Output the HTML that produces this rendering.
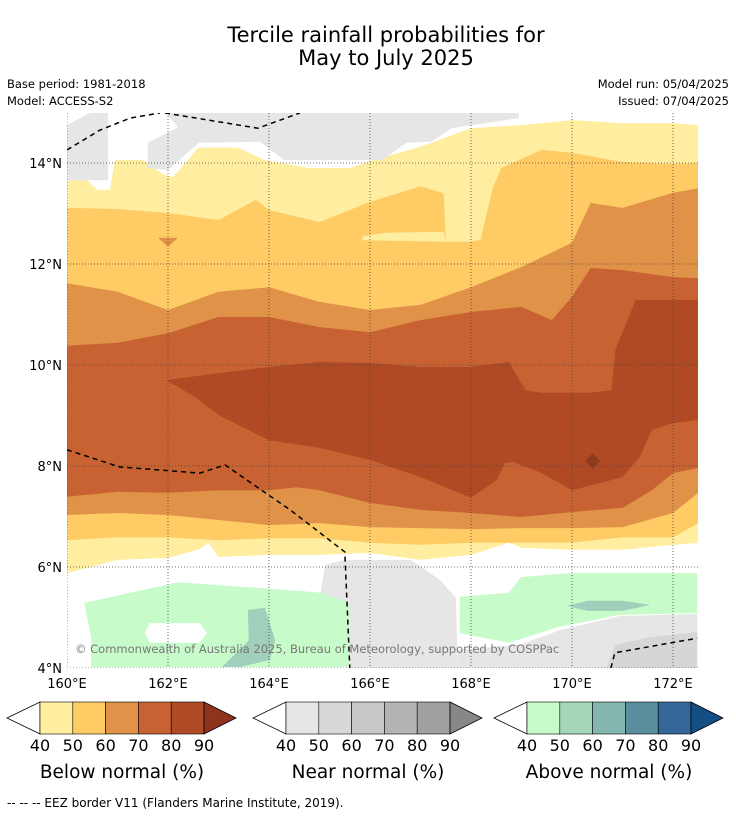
<!DOCTYPE html>
<html><head><meta charset="utf-8"><style>
html,body{margin:0;padding:0;background:#fff;}
svg{display:block;font-family:"DejaVu Sans","Liberation Sans",sans-serif;}
</style></head><body>
<svg id="chart" width="736" height="816" viewBox="0 0 736 816" xmlns="http://www.w3.org/2000/svg">
<rect width="736" height="816" fill="#fff"/>
<text x="386" y="42" text-anchor="middle" font-size="21" fill="#000">Tercile rainfall probabilities for</text>
<text x="386" y="65" text-anchor="middle" font-size="21" fill="#000">May to July 2025</text>
<text x="7" y="88" font-size="11.5">Base period: 1981-2018</text>
<text x="7" y="105" font-size="11.5">Model: ACCESS-S2</text>
<text x="729" y="88" font-size="11.5" text-anchor="end">Model run: 05/04/2025</text>
<text x="729" y="105" font-size="11.5" text-anchor="end">Issued: 07/04/2025</text>
<defs><clipPath id="mapclip"><rect x="67" y="113" width="631" height="555"/></clipPath></defs>
<g id="map" clip-path="url(#mapclip)"></g>
<g id="axes"></g>
<g id="legends"></g>
<text x="7" y="807" font-size="12" fill="#000">--  --  -- EEZ border V11 (Flanders Marine Institute, 2019).</text>
</svg>
<script>
// Axis ticks
const lonTicks = [160,162,164,166,168,170,172];
const latTicks = [4,6,8,10,12,14];
// Probability-band boundaries: [lon, lat]
const upper40 = [[160,13.66],[160.4,13.66],[160.6,13.47],[160.85,13.47],[160.95,14.06],[161.5,14.06],[161.9,13.78],[162.1,13.72],[162.6,14.30],[163.4,14.30],[163.9,14.06],[164.8,13.90],[165.6,13.90],[166.2,14.10],[167,14.32],[168,14.69],[169,14.75],[170,14.85],[171,14.79],[172,14.79],[172.5,14.75]];
const lower40 = [[160,5.88],[161,6.14],[162,6.18],[162.6,6.34],[162.8,6.48],[163,6.20],[164,6.24],[165,6.24],[166,6.28],[167,6.14],[168,6.24],[168.75,6.48],[169,6.38],[170,6.34],[171,6.34],[172,6.44],[172.5,6.48]];
const upper50 = [[160,13.11],[161,13.09],[162,13.01],[163,12.87],[163.74,13.27],[164,13.07],[165,12.83],[166,13.23],[167,13.54],[167.46,13.40],[167.5,12.44],[168,12.44],[168.19,12.48],[168.43,13.5],[168.6,13.9],[169.4,14.26],[170,14.20],[171,14.02],[172,13.98],[172.5,14.0]];
const lower50 = [[160,6.53],[161,6.59],[162,6.59],[163,6.53],[164,6.57],[165,6.57],[166,6.48],[167,6.44],[168,6.48],[169,6.48],[170,6.48],[171,6.59],[172,6.59],[172.5,6.87]];
const upper60 = [[160,11.62],[161,11.45],[162,11.09],[163,11.45],[164,11.54],[165,11.25],[166,11.09],[167,11.19],[168,11.54],[169,11.94],[170,12.42],[170.37,13.21],[171,13.11],[172,13.41],[172.5,13.50]];
const lower60 = [[160,7.03],[161,7.07],[162,7.03],[163,6.93],[164,6.83],[165,6.87],[166,6.79],[167,6.77],[168,6.75],[169,6.77],[170,6.77],[171,6.79],[172,7.07],[172.5,7.47]];
const upper70 = [[160,10.38],[161,10.44],[162,10.63],[163,10.95],[164,10.95],[165,10.75],[166,10.65],[167,10.89],[168,11.05],[169,11.15],[169.6,10.89],[170,11.35],[170.37,11.92],[171,11.88],[172,11.74],[172.5,11.72]];
const lower70 = [[160,7.39],[161,7.49],[162,7.47],[163,7.52],[164,7.52],[164.55,7.58],[165,7.52],[166,7.27],[167,7.13],[168,7.07],[169,6.99],[170,7.09],[171,7.17],[171.58,7.52],[172,7.86],[172.5,7.96]];
const upper80 = [[161.96,9.70],[163,9.84],[164,9.96],[165,10.06],[166,10.04],[167,9.96],[168,9.96],[168.75,10.06],[169.08,9.50],[169.4,9.45],[170.37,9.45],[170.78,9.50],[170.86,10.30],[171.26,11.29],[172,11.29],[172.5,11.29]];
const lower80 = [[161.96,9.70],[162.53,9.37],[163,9.01],[164,8.51],[165,8.36],[166,8.12],[167,7.78],[168,7.37],[168.51,7.72],[168.67,8.06],[168.84,8.08],[169.4,7.86],[170,7.52],[171,7.78],[171.34,8.18],[171.58,8.71],[172,8.85],[172.5,8.91]];
// Extra patches
const tongue50 = [[165.85,12.55],[166.3,12.62],[167.46,12.64],[167.5,12.44],[165.85,12.47]];
const patch60 = [[161.8,12.52],[162.2,12.52],[162.0,12.34]];
const patch90 = [[170.26,8.10],[170.41,8.25],[170.56,8.10],[170.41,7.95]];
const greyA = [[160,14.75],[160.46,14.99],[160.81,14.99],[160.81,13.66],[160,13.66]];
const greyB = [[161.6,13.90],[161.6,14.40],[162.2,14.71],[161.96,14.99],[168.95,14.99],[168.95,14.89],[167.62,14.69],[167.21,14.42],[166.73,14.40],[166.24,14.06],[164.3,14.06],[163.82,14.42],[162.61,14.40],[162.0,13.86]];
const greyC = [[165.03,5.54],[165.11,6.04],[165.5,6.14],[166.81,6.14],[167.39,5.74],[167.7,5.39],[167.74,4.0],[165.6,4.0],[165.56,5.29],[165.03,5.45]];
const greyD = [[167.74,4.36],[168.97,4.46],[169.76,4.75],[170.95,5.03],[172.48,5.07],[172.48,4.0],[167.74,4.0]];
const greyE = [[170.69,4.0],[170.85,4.46],[171.54,4.61],[172.48,4.71],[172.48,4.0]];
const greenL = [[160.34,5.29],[162.2,5.70],[164.4,5.54],[165.03,5.49],[165.6,5.29],[165.6,4.02],[160.48,4.02],[160.48,4.61]];
const holeL = [[161.64,4.89],[162.63,4.89],[162.77,4.69],[162.63,4.50],[161.64,4.50],[161.54,4.69]];
const tealL = [[163.58,5.15],[163.92,5.19],[164.12,4.55],[164.02,4.16],[163.43,4.02],[163.07,4.02],[163.6,4.55]];
const greenR = [[167.78,5.41],[168.75,5.49],[168.99,5.80],[169.96,5.88],[172.48,5.88],[172.48,5.09],[170.93,5.05],[169.72,4.81],[168.75,4.50],[167.78,4.69]];
const tealR = [[169.9,5.23],[170.3,5.33],[171.0,5.33],[171.55,5.25],[171.0,5.13],[170.3,5.13]];
const eezTopA = [[160,14.26],[160.65,14.65],[161.25,14.89],[161.84,14.99]];
const eezTopB = [[161.94,14.99],[163.78,14.69],[164.61,14.99]];
const eezMid = [[160,8.32],[161.05,7.98],[162.63,7.86],[163.13,8.02],[164.42,7.13],[165.5,6.30],[165.6,4.0]];
const eezBR = [[170.77,4.0],[170.85,4.30],[172.48,4.59]];
const legendLabels = ["40","50","60","70","80","90"];
const belowColors = ["#ffeda0","#fecb65","#df9248","#c86232","#af4a24"];
const nearColors = ["#e6e6e6","#d8d8d8","#c8c8c8","#b4b4b4","#a0a0a0"];
const aboveColors = ["#c8fbca","#a5d8b8","#82b6ae","#5b8f9e","#34669a"];
const NS="http://www.w3.org/2000/svg";
const X = lon => 67 + (lon-160)*50.5;
const Y = lat => 163 + (14-lat)*50.5;
const map = document.getElementById('map');
const axes = document.getElementById('axes');
const leg = document.getElementById('legends');
function mk(tag, attrs, parent){const e=document.createElementNS(NS,tag);for(const k in attrs)e.setAttribute(k,attrs[k]);parent.appendChild(e);return e;}
function pts(a){return a.map(p=>X(p[0]).toFixed(1)+','+Y(p[1]).toFixed(1)).join(' ');}
function band(top,bot,color,name){
  const p = mk('polygon',{points: pts(top)+' '+pts(bot.slice().reverse()), fill:color}, map);
  
  
}
function poly(a,color,name){
  const p = mk('polygon',{points: pts(a), fill:color}, map);
  
  
}
band(upper40,lower40,"#ffeda0","below-40-50-region");
band(upper50,lower50,"#fecb65","below-50-60-region");
poly(tongue50,"#ffeda0","below-40-50-tongue");
poly(patch60,"#df9248","below-60-70-patch");
band(upper60,lower60,"#df9248","below-60-70-region");
band(upper70,lower70,"#c86232","below-70-80-region");
band(upper80,lower80,"#af4a24","below-80-90-region");
poly(patch90,"#8e3a1e","below-90-patch");
poly(greyA,"#e6e6e6","near-normal-region-a");
poly(greyB,"#e6e6e6","near-normal-region-b");
poly(greyC,"#e6e6e6","near-normal-region-c");
poly(greyD,"#e6e6e6","near-normal-region-d");
poly(greyE,"#d6d6d6","near-normal-50-region");
poly(greenL,"#c8fbca","above-40-50-region-west");
poly(holeL,"#ffffff","neutral-hole");
poly(tealL,"#a0cfbb","above-50-60-region-west");
poly(greenR,"#c8fbca","above-40-50-region-east");
poly(tealR,"#a0cfbb","above-50-60-region-east");
// gridlines
lonTicks.forEach(l=>{
  const g = mk('line',{x1:X(l),x2:X(l),y1:113,y2:668,stroke:"#444","stroke-width":0.8,"stroke-dasharray":"1,2"}, map);
  
  
  const t = mk('text',{x:X(l),y:688,"text-anchor":"middle","font-size":13}, axes);
  t.textContent = l+'°E';
  
  
});
latTicks.forEach(l=>{
  const g = mk('line',{x1:67,x2:698,y1:Y(l),y2:Y(l),stroke:"#444","stroke-width":0.8,"stroke-dasharray":"1,2"}, map);
  
  
  const t = mk('text',{x:62,y:Y(l)+5,"text-anchor":"end","font-size":13}, axes);
  t.textContent = l+'°N';
  
  
});
[eezTopA,eezTopB,eezMid,eezBR].forEach(a=>{
  const l = mk('polyline',{points:pts(a),fill:"none",stroke:"#000","stroke-width":1.5,"stroke-dasharray":"5,4"}, map);
  
  
});
const cp = mk('text',{x:75,y:653,"font-size":11.5,fill:"#777"}, map);
cp.textContent = "© Commonwealth of Australia 2025, Bureau of Meteorology, supported by COSPPac";


// legends
function legend(x0, colors, tip, title, name){
  const g = mk('g',{}, leg);
  
  
  const w = 32.8, top=702, bot=734, mid=718;
  mk('polygon',{points:`${x0-33},${mid} ${x0},${top} ${x0},${bot}`,fill:"#fff",stroke:"#000","stroke-width":0.8}, g);
  colors.forEach((c,i)=>{
    const r = mk('rect',{x:x0+i*w,y:top,width:w,height:bot-top,fill:c,stroke:"#000","stroke-width":0.6}, g);
    
    
  });
  const xe = x0+5*w;
  mk('polygon',{points:`${xe},${top} ${xe+32},${mid} ${xe},${bot}`,fill:tip,stroke:"#000","stroke-width":0.8}, g);
  legendLabels.forEach((s,i)=>{
    const t = mk('text',{x:x0+i*w,y:751,"text-anchor":"middle","font-size":16}, g);
    t.textContent = s;
    
    
  });
  const tt = mk('text',{x:x0+2.5*w,y:778,"text-anchor":"middle","font-size":18.5}, g);
  tt.textContent = title;
  
  
}
legend(40, belowColors, "#8e341c", "Below normal (%)", "below-normal-legend");
legend(286, nearColors, "#878787", "Near normal (%)", "near-normal-legend");
legend(527, aboveColors, "#134e85", "Above normal (%)", "above-normal-legend");
</script>
</body></html>
